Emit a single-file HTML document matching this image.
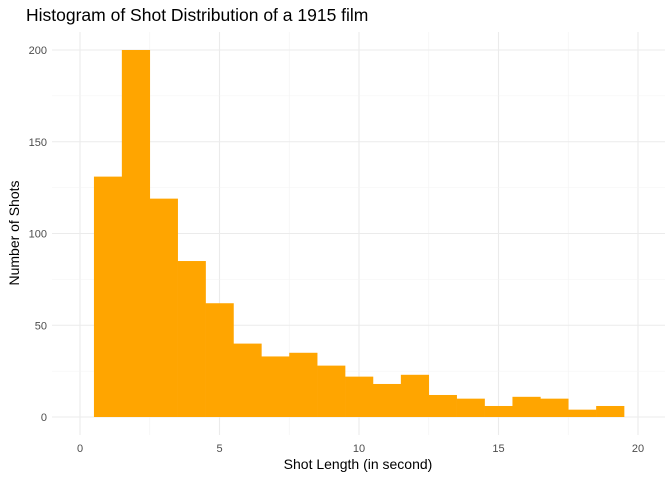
<!DOCTYPE html>
<html><head><meta charset="utf-8"><style>
body{margin:0;background:#fff;font-family:"Liberation Sans",sans-serif}
</style></head><body>
<svg width="672" height="480" xmlns="http://www.w3.org/2000/svg">
<rect width="672" height="480" fill="#fff"/>
<g id="grid"></g>
<g id="bars"></g>
<g id="ticks"></g>
<text x="26" y="21" font-size="17.5" fill="#000">Histogram of Shot Distribution of a 1915 film</text>
<text x="358" y="469" font-size="14" text-anchor="middle" fill="#000">Shot Length (in second)</text>
<text transform="translate(19,233) rotate(-90)" font-size="14" text-anchor="middle" fill="#000">Number of Shots</text>
</svg>
<script>
const binCenters=[1,2,3,4,5,6,7,8,9,10,11,12,13,14,15,16,17,18,19];
const counts=[131,200,119,85,62,40,33,35,28,22,18,23,12,10,6,11,10,4,6];
const xTicks=[0,5,10,15,20];
const yTicks=[0,50,100,150,200];
const NS="http://www.w3.org/2000/svg";
const X=v=>80+v*27.9, Y=v=>417-v*1.835;
const L=52,R=665,T=32,B=435;
function mk(t,a,p){const e=document.createElementNS(NS,t);for(const k in a)e.setAttribute(k,a[k]);p.appendChild(e);return e;}
const g=document.getElementById('grid'),bg=document.getElementById('bars'),tg=document.getElementById('ticks');
for(let i=0;i<xTicks.length;i++){
 const v=xTicks[i];
 const l=mk('line',{x1:X(v),x2:X(v),y1:T,y2:B,stroke:'#ebebeb','stroke-width':1.1},g);
 
 
 if(i<xTicks.length-1){const m=(v+xTicks[i+1])/2;
 const ml=mk('line',{x1:X(m),x2:X(m),y1:T,y2:B,stroke:'#f3f3f3','stroke-width':0.6},g);
 
 }
 const t=mk('text',{x:X(v),y:452,'font-size':11,'text-anchor':'middle',fill:'#4d4d4d'},tg);t.textContent=v;
 
 
}
for(let i=0;i<yTicks.length;i++){
 const v=yTicks[i];
 const l=mk('line',{x1:L,x2:R,y1:Y(v),y2:Y(v),stroke:'#ebebeb','stroke-width':1.1},g);
 
 
 if(i<yTicks.length-1){const m=(v+yTicks[i+1])/2;
 const ml=mk('line',{x1:L,x2:R,y1:Y(m),y2:Y(m),stroke:'#f3f3f3','stroke-width':0.6},g);
 
 }
 const t=mk('text',{x:47,y:Y(v)+4,'font-size':11,'text-anchor':'end',fill:'#4d4d4d'},tg);t.textContent=v;
 
 
}
binCenters.forEach((c,i)=>{
 const r=mk('rect',{x:X(c-0.5),y:Y(counts[i]),width:X(c+0.5)-X(c-0.5)+0.3,height:Y(0)-Y(counts[i]),fill:'#ffa500'},bg);
 
 
});
</script>
</body></html>
